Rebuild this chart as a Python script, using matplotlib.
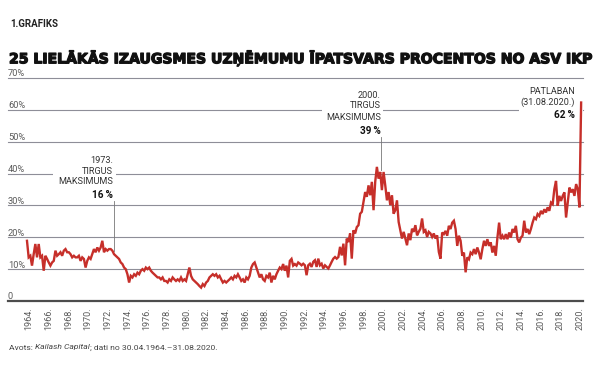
import numpy as np
import matplotlib
matplotlib.use("Agg")
import matplotlib.pyplot as plt
import matplotlib.transforms as mtransforms
import matplotlib.patheffects as pe
from matplotlib.patches import Rectangle

# ---------------- data (share of US GDP, %) ----------------
share_1964_1978 = [
    18.9, 13.7, 14.2, 11.1, 14.7, 17.9, 13.7, 17.9, 13.7, 14.2,
    9.5, 14.2, 13.2, 12.1, 11.1, 12.1, 12.6, 15.8, 14.2, 14.7,
    15.3, 14.2, 15.8, 16.3, 15.3, 15.3, 14.7, 13.7, 14.2, 13.7,
    13.7, 14.2, 12.6, 13.7, 13.2, 10.5, 12.6, 13.7, 13.2, 14.7,
    16.3, 15.3, 16.8, 15.8, 16.8, 18.9, 15.3, 16.3, 15.8, 16.3,
    16.3, 15.8, 14.7, 14.2, 13.7, 13.2, 12.1, 11.6, 10.5, 10.0,
    8.4, 5.8, 7.9, 7.4, 8.4, 7.9, 8.9, 8.4, 9.5, 10.0,
    9.5, 10.5, 10.0, 10.5, 9.5, 8.9, 8.4, 7.9, 7.4, 7.4,
    6.8, 7.4, 6.3,
]
share_1978_1992 = [
    6.3, 5.8, 6.8, 6.3, 7.4, 6.8, 6.3, 6.8, 6.3, 7.4,
    6.3, 6.8, 6.3, 8.4, 10.5, 7.9, 6.8, 6.3, 5.8, 5.3,
    4.7, 4.2, 5.3, 4.7, 5.8, 6.3, 7.4, 7.9, 8.4, 7.9,
    8.4, 7.4, 7.9, 6.8, 5.8, 6.3, 5.8, 6.3, 6.8, 7.4,
    6.8, 7.9, 7.4, 8.4, 7.4, 6.3, 6.8, 5.8, 7.4, 6.8,
    7.9, 10.5, 11.6, 12.1, 10.5, 8.9, 7.4, 8.4, 6.8, 6.3,
    7.9, 7.4, 8.9, 5.8, 7.9, 6.8, 8.4, 9.5, 10.5, 10.0,
    11.6, 9.5, 11.1, 7.4, 12.6, 13.2, 11.1, 11.6, 11.1, 12.1,
]
share_1992_2006 = [
    11.7, 11.2, 11.7, 11.2, 8.1, 11.2, 11.7, 10.7, 12.3, 12.8,
    10.7, 13.3, 11.2, 11.7, 10.2, 11.2, 10.7, 10.2, 11.2, 12.3,
    13.3, 13.8, 13.3, 13.8, 17.0, 14.3, 18.0, 11.2, 19.6, 18.5,
    21.2, 13.3, 22.2, 21.2, 23.2, 23.8, 27.4, 28.0, 31.1, 34.2,
    32.7, 36.3, 33.2, 37.4, 28.5, 37.4, 42.1, 38.4, 40.5, 34.8,
    40.5, 36.3, 31.6, 34.2, 30.1, 33.2, 27.4, 28.5, 31.6, 24.8,
    22.2, 19.6, 21.7, 19.6, 17.5, 21.2, 19.1, 22.7, 21.7, 23.8,
    20.6, 21.7, 22.7, 25.9, 21.7, 22.2, 20.1, 21.7, 21.2, 20.1,
    21.2, 19.6, 20.6, 15.4, 13.3,
]
share_2006_2020 = [
    21.5, 21.0, 22.0, 20.5, 23.6, 22.6, 24.6, 25.2, 22.6, 17.3,
    20.5, 18.9, 14.2, 15.2, 9.0, 13.7, 13.1, 15.2, 14.7, 16.3,
    14.7, 16.8, 15.2, 13.1, 16.3, 18.9, 17.3, 19.4, 17.3, 18.4,
    15.2, 17.3, 14.2, 19.9, 24.6, 19.4, 20.5, 19.4, 21.0, 19.4,
    21.5, 19.9, 22.6, 21.5, 23.6, 19.4, 18.4, 19.9, 20.5, 25.2,
    21.5, 22.6, 21.0, 22.6, 24.6, 26.2, 25.7, 27.3, 26.7, 28.3,
    27.3, 28.8, 27.8, 29.4, 28.3, 30.9, 30.4, 35.1, 37.7, 29.9,
    33.0, 31.4, 33.0, 34.1, 26.2, 30.9, 35.6, 34.1, 35.1, 33.0,
    36.7, 35.1, 29.4, 62.3,
]
start_year, end_year = 1964.33, 2020.67          # 30.04.1964 - 31.08.2020
tick_years = list(range(1964, 2021, 2))
y_levels = [0, 10, 20, 30, 40, 50, 60, 70]
y_labels = ["0", "10%", "20%", "30%", "40%", "50%", "60%", "70%"]

TITLE = "25 LIELĀKĀS IZAUGSMES UZŅĒMUMU ĪPATSVARS PROCENTOS NO ASV IKP"
KICKER = "1.GRAFIKS"

values = np.array(share_1964_1978 + share_1978_1992 + share_1992_2006 + share_2006_2020)
dates = np.linspace(start_year, end_year, len(values))

# ---------------- styling ----------------
RED = "#c62f2a"
GRID = "#8e8e98"
AXIS = "#4d4d4d"
TXT = "#333333"
LAB = "#5a5a5a"
FONT = "Roboto"

W, H = 600, 370
fig = plt.figure(figsize=(W / 100, H / 100), dpi=100)
fig.patch.set_facecolor("white")
ax = fig.add_axes([8 / W, 69 / H, 575 / W, 223 / H])
ax.set_xlim(1962.40, 2020.86)
ax.set_ylim(0, 70)
for s in ax.spines.values():
    s.set_visible(False)
ax.set_yticks([])
ax.set_facecolor("none")

# grid lines
for v in y_levels[1:]:
    ax.axhline(v, color=GRID, lw=0.8, zorder=1, clip_on=False)
ax.axhline(0, color=AXIS, lw=1.6, zorder=6, clip_on=False)

# y labels sitting on the lines
blend = mtransforms.blended_transform_factory(ax.transAxes, ax.transData)
lift = mtransforms.ScaledTranslation(0, 1.6 / 100, fig.dpi_scale_trans)
for v, lab in zip(y_levels, y_labels):
    ax.text(0, v, lab, transform=blend + lift, ha="left", va="baseline",
            fontsize=6.7, color=LAB, family=FONT, zorder=7)

# x tick labels (centred mid-year)
ax.set_xticks([y + 0.55 for y in tick_years])
ax.set_xticklabels([f"{y}." for y in tick_years], rotation=90,
                   fontsize=6.5, color=LAB, family=FONT)
ax.tick_params(axis="x", length=0, pad=4.4)

# white blocks behind annotations (break the grid lines)
for (x0, x1, y0, y1) in [(1966.97, 1973.38, 31.7, 46.1),
                         (1994.32, 2000.53, 51.8, 66.5),
                         (2014.36, 2020.86, 56.5, 67.8)]:
    ax.add_patch(Rectangle((x0, y0), x1 - x0, y1 - y0, facecolor="white",
                           edgecolor="none", zorder=2, clip_on=False))

# data line
ax.plot(dates, values, color=RED, lw=1.7, zorder=5, solid_joinstyle="miter")

# annotations
def note(x, lines, bold, y_bold):
    for txt, y in lines:
        ax.text(x, y, txt, ha="right", va="baseline", fontsize=6.6,
                color=TXT, family=FONT, zorder=4)
    ax.text(x, y_bold, bold, ha="right", va="baseline", fontsize=7.2,
            color="#111111", family=FONT, fontweight="bold", zorder=4)

note(1973.07, [("1973.", 43.3), ("TIRGUS", 39.9), ("MAKSIMUMS", 36.7)], "16\u2009%", 32.3)
ax.plot([1973.17, 1973.17], [31.4, 15.8], color="#777777", lw=0.6, zorder=3)

note(2000.32, [("2000.", 63.7), ("TIRGUS", 60.6), ("MAKSIMUMS", 56.8)], "39\u2009%", 52.4)
ax.plot([2000.36, 2000.36], [51.5, 41.0], color="#777777", lw=0.6, zorder=3)

note(2020.05, [("PATLABAN", 65.0), ("(31.08.2020.)", 61.5)], "62\u2009%", 57.4)

# ---------------- header ----------------
fig.text(10.5 / W, 1 - 27.3 / H, KICKER, fontsize=7.0, fontweight="bold",
         color="#222222", family=FONT, va="baseline")
title = fig.text(9 / W, 1 - 63.3 / H, TITLE, fontsize=12, fontweight="heavy",
                 color="#111111", family="DejaVu Sans", va="baseline",
                 path_effects=[pe.withStroke(linewidth=0.9, foreground="#111111")])
renderer = fig.canvas.get_renderer()
w = title.get_window_extent(renderer).width
title.set_fontsize(12 * 582 / w)

# ---------------- source line ----------------
x = 9.3 / W
yb = 1 - 349.5 / H
for txt, style in [("Avots: ", "normal"), ("Kailash Capital", "italic"),
                   ("; dati no 30.04.1964.\u201331.08.2020.", "normal")]:
    t = fig.text(x, yb, txt, fontsize=6.1, color="#444444", family=FONT,
                 style=style, va="baseline")
    x += t.get_window_extent(renderer).width / W

fig.savefig("out.png", dpi=100, facecolor="white")
